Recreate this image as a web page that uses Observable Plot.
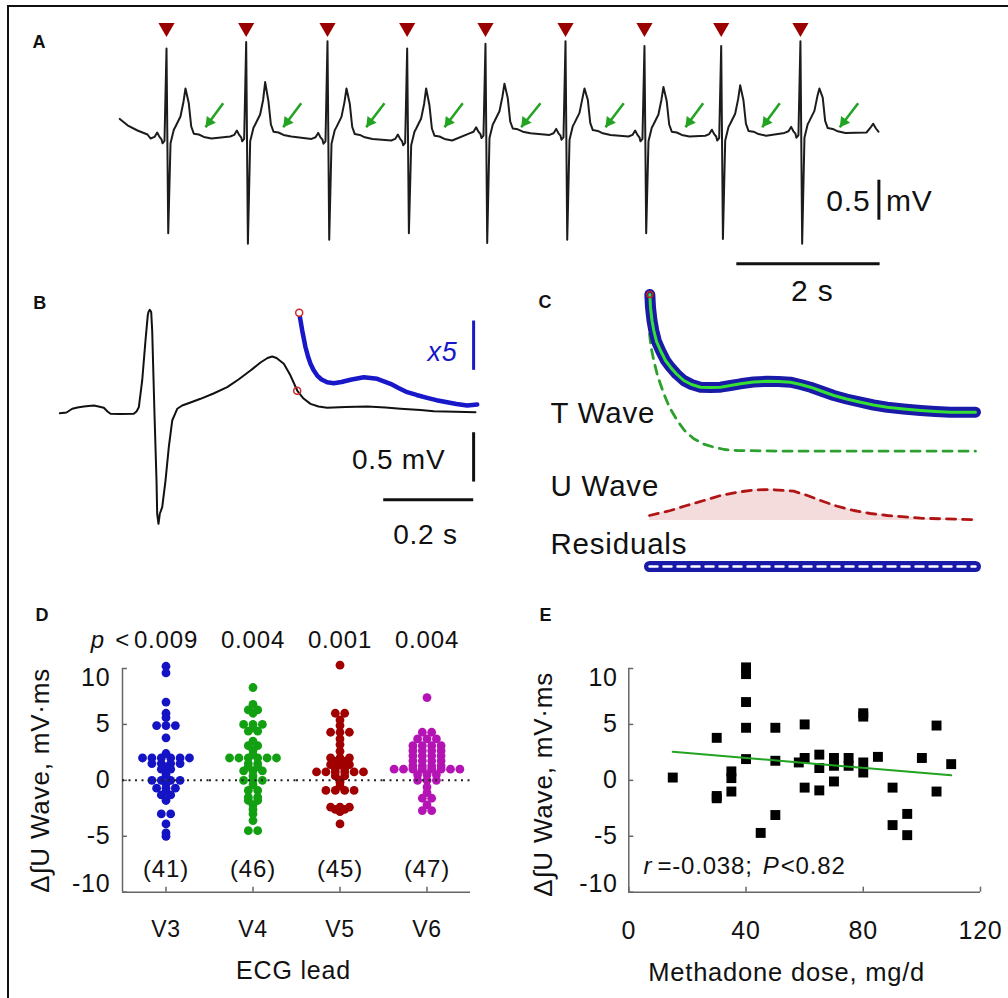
<!DOCTYPE html>
<html><head><meta charset="utf-8">
<script src="https://cdn.jsdelivr.net/npm/d3@7"></script>
<script src="https://cdn.jsdelivr.net/npm/@observablehq/plot@0.6"></script>
<style>
html,body{margin:0;padding:0;background:#fff;}
#fig{position:relative;width:1008px;height:998px;overflow:hidden;background:#fff;}
.panel{position:absolute;}
.panel svg text{letter-spacing:0.8px;}
#frame{position:absolute;left:7px;top:5px;width:1100px;height:1100px;border-top:2px solid #111;border-left:2px solid #111;pointer-events:none;}
</style></head><body><div id="fig"></div>
<script>
// ---------------- Panel A : ECG strip (time in s, voltage in mV) ----------------
const rPeakTimes   = [2.317, 3.429, 4.564, 5.676, 6.769, 7.886, 8.988, 10.059, 11.165];
const rPeakAmps    = [1.10, 1.18, 1.19, 1.10, 1.16, 1.19, 1.13, 1.13, 1.19];
const sWaveAmps    = [-1.21, -1.34, -1.29, -1.21, -1.33, -1.29, -1.21, -1.28, -1.34];
const tWaveAmps    = [0.60, 0.68, 0.60, 0.60, 0.66, 0.60, 0.62, 0.64, 0.60];
const beatBaselines= [-0.025, 0.0, -0.03, -0.05, 0.04, 0.02, 0.0, 0.01, 0.045];
// beat shape read from the strip: offset from R (s) and level above baseline (mV)
const beatShapeOffsets = [-0.223,-0.167,-0.13,-0.098,-0.07,-0.056,-0.028,0,0.024,0.056,0.102,0.126,0.195,0.237,0.265,0.311,0.345,0.381,0.451,0.521,0.628];
const beatShapeLevels  = [0,0.02,0.075,0.02,-0.01,-0.06,-0.03,"R","S",-0.06,0.11,0.15,0.275,0.46,"T",0.44,0.15,0.06,0.05,0.02,0];
const leadInTimes  = [1.665, 1.773, 1.912, 2.052];
const leadInVolts  = [0.22, 0.14, 0.075, 0.025];
const leadOutTimes = [12.087, 12.142, 12.18, 12.219, 12.254];
const leadOutVolts = [0.05, 0.11, 0.16, 0.10, 0.06];
const rMarkerLevel = 1.36;
const arrowTipTimes  = [2.861, 3.946, 5.104, 6.197, 7.267, 8.444, 9.560, 10.631, 11.714];
const arrowTailTimes = [3.108, 4.197, 5.359, 6.452, 7.537, 8.699, 9.807, 10.877, 11.971];
const arrowTipLevel = 0.116, arrowTailLevel = 0.416;
const scaleBarA = {t0: 10.27, sec: 2, hv: -1.59, vt: 12.26, v0: -0.54, mv: 0.5};

// ---------------- Panel B : averaged beat (time in ms, mV) ----------------
const bTimes = [0,14.9,27.6,39.3,53.3,63.8,75.6,86,97.8,106,112.7,134,164.4,170.4,175.6,183.1,190.4,195.6,197.1,200,203.1,205.3,210.4,214.9,216.4,219.3,222.2,227.6,234.9,242.2,249.8,260.9,272,290.4,312.7,341.6,372,397.1,423.8,446,461.6,472,481.6,497.8,512.7,527.6,541.6,557.1,574.9,594.2,634.9,683.1,723.8,757.1,801.6,831.1,879.3,923.8];
const bVolts = [0.003,0.01,0.048,0.061,0.071,0.076,0.081,0.071,0.058,0.02,-0.003,-0.005,-0.003,0.02,0.064,0.335,0.74,1.0,1.03,1.052,1.03,0.842,-0.003,-0.68,-1.017,-1.119,-1.017,-0.95,-0.68,-0.342,-0.071,0.048,0.081,0.112,0.149,0.203,0.267,0.345,0.436,0.517,0.563,0.578,0.563,0.504,0.385,0.233,0.152,0.098,0.071,0.058,0.066,0.071,0.061,0.048,0.035,0.023,0.017,0.013];
const x5Times = [532,538.7,546,551.6,557.1,563.8,572,581.6,594.2,608.9,626,646,675.6,705.3,734.9,752.7,772,792.7,816.4,837.1,860.9,881.6,905.3,927.6];
const x5Volts = [1.021,0.842,0.672,0.578,0.504,0.441,0.385,0.345,0.317,0.307,0.319,0.342,0.368,0.352,0.301,0.259,0.216,0.188,0.159,0.135,0.115,0.096,0.081,0.091];
const tEndPoint = {t: 527.6, v: 0.23};
const scaleBarB = {t: 919.6, v0: -0.19, mv: 0.5, h0: 718.7, ms: 200, hv: -0.875, bv0: 0.443, bmv: 0.5};

// ---------------- Panel C : fit decomposition (ms, a.u.) ----------------
const fitTimes = [532.4,533.2,535,537.2,540.5,545.3,551.4,557.5,564.8,573.6,583,593.9,606,618.2,630.3,642.4,658.2,674.8,688.6,703.1,715.3,727.4,742,755.7,771.1,788.1,803.8,820.5,840.3,860.9,879.1,897.3,915.5,927.6];
const fitVals  = [3.06,2.933,2.80,2.70,2.59,2.50,2.40,2.333,2.265,2.20,2.16,2.133,2.13,2.133,2.15,2.167,2.185,2.193,2.19,2.183,2.16,2.133,2.09,2.05,2.015,1.983,1.955,1.933,1.915,1.90,1.89,1.883,1.883,1.883];
const tWaveTimes = [532,534,537.2,541.7,549.4,556.3,565.6,574.5,585.8,597.5,610,623,638.4,699.1,927.6];
const tWaveVals  = [2.667,2.53,2.40,2.25,2.067,1.93,1.80,1.70,1.617,1.565,1.533,1.51,1.50,1.493,1.493];
const uWaveTimes = [532,557.5,577,597.9,618.2,638.4,658.2,678.8,707.1,723.7,739.5,758.9,779.9,800.2,820.5,860.9,927.6];
const uWaveVals  = [0.85,0.90,0.95,1.00,1.05,1.083,1.105,1.11,1.093,1.05,1.00,0.945,0.90,0.87,0.85,0.823,0.807];
const uWaveBase = 0.80;
const residualTimes = [532, 927.6];
const residualVals  = [0.34, 0.34];

// ---------------- Panel D : ΔU wave by lead ----------------
const leads = ["V3", "V4", "V5", "V6"];
const leadColors = ["#1414c4", "#12a012", "#a00000", "#b414b4"];
const pValues = ["0.009", "0.004", "0.001", "0.004"];
const leadCounts = ["(41)", "(46)", "(45)", "(47)"];
const v3Values = [10.2,9.6,7.0,6.0,5.6,4.9,4.9,4.9,3.8,2.4,2.0,2.0,2.0,2.0,2.0,2.0,1.5,1.5,1.5,1.5,1.2,1.0,1.0,0.5,0.0,0.0,0.0,0.0,-0.3,-0.7,-0.7,-0.7,-1.0,-1.3,-1.3,-1.8,-3.0,-3.0,-3.9,-4.7,-5.0];
const v4Values = [8.3,6.8,6.3,6.3,6.0,5.0,5.0,5.0,4.7,4.4,4.4,3.5,3.1,3.1,2.7,2.3,2.0,2.0,2.0,2.0,2.0,2.0,1.5,1.5,1.2,1.2,0.85,0.85,0.85,0.4,0.0,0.0,0.0,-0.4,-0.9,-0.9,-1.5,-1.5,-1.8,-1.8,-2.2,-2.6,-3.0,-3.6,-4.5,-4.5];
const v5Values = [10.3,6.0,6.0,5.4,4.9,4.3,4.3,4.3,3.7,3.2,2.6,2.0,2.0,2.0,1.7,1.7,1.4,1.4,1.4,1.2,1.2,1.05,1.05,0.75,0.75,0.75,0.75,0.75,0.75,0.4,0.4,0.0,-0.2,-0.5,-0.9,-0.9,-0.9,-0.9,-2.4,-2.4,-2.4,-2.6,-2.6,-2.8,-3.9];
const v6Values = [7.4,4.3,4.3,3.7,3.7,3.7,3.1,3.1,3.1,3.1,2.65,2.65,2.65,2.65,2.2,2.2,2.2,2.2,1.75,1.75,1.75,1.75,1.3,1.3,1.3,1.3,1.0,1.0,1.0,1.0,1.0,1.0,1.0,1.0,0.5,0.5,0.5,0.0,0.0,0.0,-0.6,-1.1,-1.6,-1.6,-2.2,-2.7,-2.7];
const yTicks = [-10, -5, 0, 5, 10];

// ---------------- Panel E : dose vs ΔU wave ----------------
const doseValues  = [15,30,30,30,35,35,35,40,40,40,40,40,45,50,50,50,58,60,60,60,65,65,65,70,70,70,75,75,80,80,80,80,85,90,90,95,95,100,105,105,110];
const deltaValues = [0.25,3.8,-1.4,-1.6,0.2,0.8,-1.0,10.1,9.5,7.0,4.7,1.9,-4.7,4.7,1.75,-3.1,1.6,5.0,2.0,-0.65,2.3,1.1,-0.9,2.0,1.3,-0.1,2.0,1.3,6.0,5.7,1.6,0.7,2.1,-0.65,-4.0,-3.0,-4.9,2.0,4.9,-1.0,1.45];
const fitDose  = [15, 110];
const fitDelta = [2.55, 0.45];
const doseTicks = [0, 40, 80, 120];

// ===================================================================
const FONT = "'Liberation Sans', Arial, Helvetica, sans-serif";
const INK = "#111";
const GREEN = "#22a322";
const AXIS = "#666";
const style = {background: "transparent", fontFamily: FONT, overflow: "visible", color: INK};
const fig = document.getElementById("fig");
function place(svg, left, top) {
  const d = document.createElement("div");
  d.className = "panel";
  d.style.left = left + "px"; d.style.top = top + "px";
  d.appendChild(svg); fig.appendChild(d);
}
const letter = (s, dx, dy) => Plot.text([s], {frameAnchor: "top-left", dx, dy, text: d => d, textAnchor: "start", lineAnchor: "bottom", fontSize: 18, fontWeight: "bold", fill: INK});

// ---- Panel A ----
const traceA = [];
leadInTimes.forEach((t, i) => traceA.push({t, v: leadInVolts[i]}));
rPeakTimes.forEach((r, i) => {
  beatShapeOffsets.forEach((dt, j) => {
    const L = beatShapeLevels[j];
    const v = L === "R" ? rPeakAmps[i] : L === "S" ? sWaveAmps[i] : L === "T" ? tWaveAmps[i] : beatBaselines[i] + L;
    traceA.push({t: r + dt, v});
  });
});
leadOutTimes.forEach((t, i) => traceA.push({t, v: leadOutVolts[i]}));
const arrows = arrowTipTimes.map((t, i) => ({tipT: t, tipV: arrowTipLevel, tailT: arrowTailTimes[i], tailV: arrowTailLevel}));

place(Plot.plot({
  width: 1008, height: 310, margin: 0, style,
  x: {domain: [0, 14.069], axis: null},
  y: {domain: [-2.175, 1.7], axis: null},
  marks: [
    Plot.line(traceA, {x: "t", y: "v", stroke: "#1c1c1c", strokeWidth: 2, strokeLinejoin: "round"}),
    Plot.dot(rPeakTimes, {x: d => d, y: rMarkerLevel, symbol: "triangle", rotate: 180, r: 6, fill: "#9b0000", stroke: "none"}),
    Plot.link(arrows, {x1: "tailT", y1: "tailV", x2: "tipT", y2: "tipV", stroke: GREEN, strokeWidth: 2.5}),
    Plot.dot(arrows, {x: "tipT", y: "tipV", symbol: "triangle", rotate: 216.4, r: 4.2, fill: GREEN, stroke: "none", dx: 3.9, dy: -5.3}),
    Plot.link([scaleBarA], {x1: d => d.t0, x2: d => d.t0 + d.sec, y1: "hv", y2: "hv", stroke: INK, strokeWidth: 3}),
    Plot.link([scaleBarA], {x1: "vt", x2: "vt", y1: "v0", y2: d => d.v0 - d.mv, stroke: INK, strokeWidth: 3}),
    Plot.text(["0.5"], {x: 12.142, y: -0.925, text: d => d, textAnchor: "end", lineAnchor: "bottom", fontSize: 30, fill: INK}),
    Plot.text(["mV"], {x: 12.36, y: -0.925, text: d => d, textAnchor: "start", lineAnchor: "bottom", fontSize: 30, fill: INK}),
    Plot.text(["2 s"], {x: 11.33, y: -2.05, text: d => d, textAnchor: "middle", lineAnchor: "bottom", fontSize: 30, fill: INK}),
    letter("A", 32, 47)
  ]
}), 0, 0);

// ---- Panel B ----
const traceB = bTimes.map((t, i) => ({t, v: bVolts[i]}));
const traceX5 = x5Times.map((t, i) => ({t, v: x5Volts[i]}));
place(Plot.plot({
  width: 520, height: 310, margin: 0, style,
  x: {domain: [-131.8, 1023.8], axis: null},
  y: {domain: [-1.7951, 1.3489], axis: null},
  marks: [
    Plot.line(traceB, {x: "t", y: "v", stroke: "#111", strokeWidth: 2, strokeLinejoin: "round"}),
    Plot.line(traceX5, {x: "t", y: "v", stroke: "#1818c8", strokeWidth: 4.5, strokeLinejoin: "round", strokeLinecap: "round"}),
    Plot.dot([tEndPoint], {x: "t", y: "v", r: 3.5, stroke: "#d02828", strokeWidth: 1.5, fill: "none"}),
    Plot.dot([traceX5[0]], {x: "t", y: "v", r: 3.5, stroke: "#d02828", strokeWidth: 1.5, fill: "white"}),
    Plot.link([scaleBarB], {x1: "t", x2: "t", y1: "v0", y2: d => d.v0 - d.mv, stroke: INK, strokeWidth: 3}),
    Plot.link([scaleBarB], {x1: "h0", x2: d => d.h0 + d.ms, y1: "hv", y2: "hv", stroke: INK, strokeWidth: 3}),
    Plot.link([scaleBarB], {x1: "t", x2: "t", y1: "bv0", y2: d => d.bv0 + d.bmv, stroke: "#1818c8", strokeWidth: 3}),
    Plot.text(["x5"], {x: 884, y: 0.5375, text: d => d, textAnchor: "end", lineAnchor: "bottom", fontSize: 27, fontStyle: "italic", fill: "#1818c8"}),
    Plot.text(["0.5 mV"], {x: 857, y: -0.561, text: d => d, textAnchor: "end", lineAnchor: "bottom", fontSize: 28, fill: INK}),
    Plot.text(["0.2 s"], {x: 812.7, y: -1.321, text: d => d, textAnchor: "middle", lineAnchor: "bottom", fontSize: 28, fill: INK}),
    letter("B", 32.7, 28.3)
  ]
}), 0, 280);

// ---- Panel C ----
const fitC = fitTimes.map((t, i) => ({t, v: fitVals[i]}));
const tWaveC = tWaveTimes.map((t, i) => ({t, v: tWaveVals[i]}));
const uWaveC = uWaveTimes.map((t, i) => ({t, v: uWaveVals[i]}));
const residC = residualTimes.map((t, i) => ({t, v: residualVals[i]}));
const cLabel = (s, dx, dy) => Plot.text([s], {frameAnchor: "top-left", dx, dy, text: d => d, textAnchor: "start", lineAnchor: "bottom", fontSize: 29.5, fill: INK});
place(Plot.plot({
  width: 488, height: 330, margin: 0, style,
  x: {domain: [375.45, 967.67], axis: null},
  y: {domain: [-0.1, 3.2], axis: null},
  marks: [
    Plot.areaY(uWaveC, {x: "t", y1: uWaveBase, y2: "v", fill: "#f4dcdc"}),
    Plot.line(uWaveC, {x: "t", y: "v", stroke: "#b01414", strokeWidth: 2.8, strokeDasharray: "9,7"}),
    Plot.line(tWaveC, {x: "t", y: "v", stroke: "#2ca02c", strokeWidth: 2.8, strokeDasharray: "9,7"}),
    Plot.line(fitC, {x: "t", y: "v", stroke: "#1a1aa8", strokeWidth: 11, strokeLinecap: "round", strokeLinejoin: "round"}),
    Plot.line(fitC, {x: "t", y: "v", stroke: "#35e035", strokeWidth: 3, strokeLinecap: "round", strokeLinejoin: "round"}),
    Plot.dot([fitC[0]], {x: "t", y: "v", r: 3, stroke: "#c02020", strokeWidth: 1.5, fill: "none"}),
    Plot.line(residC, {x: "t", y: "v", stroke: "#1a1aa8", strokeWidth: 11, strokeLinecap: "round"}),
    Plot.line(residC, {x: "t", y: "v", stroke: "white", strokeWidth: 2.5, strokeDasharray: "8,6"}),
    cLabel("T Wave", 30, 142.7),
    cLabel("U Wave", 30, 215),
    cLabel("Residuals", 30, 273.3),
    letter("C", 18, 27.3)
  ]
}), 520, 280);

// ---- Panel D ----
// spread layout: equal values in a lead share a row, centred on the lead
const leadValues = [v3Values, v4Values, v5Values, v6Values];
const spreadPx = 9.5, bandPx = 88;
const dotsD = leads.flatMap((lead, i) => {
  const out = [];
  for (const [value, arr] of d3.group(leadValues[i], d => d)) {
    arr.forEach((_, k) => out.push({lead, value, offset: 0.5 + (k - (arr.length - 1) / 2) * spreadPx / bandPx}));
  }
  return out;
});
const leadRows = leads.map((lead, i) => ({lead, p: pValues[i], n: leadCounts[i]}));
const firstLead = [{lead: leads[0]}];
const yTickRowsD = yTicks.map(v => ({lead: leads[0], v}));
const inner = v => v > -10 && v < 10;
const yLabel = "\u0394\u222BU Wave, mV\u00B7ms";
const yTickTextD = (filter, lineAnchor) => Plot.text(yTickRowsD.filter(d => filter(d.v)), {fx: "lead", x: 0, y: "v", dx: -12, text: d => String(d.v), textAnchor: "end", lineAnchor, fontSize: 25, fill: INK});
place(Plot.plot({
  width: 500, height: 408, marginLeft: 120, marginRight: 28.3, marginTop: 78, marginBottom: 106.3, style,
  fx: {domain: leads, padding: 0, axis: null},
  x: {domain: [0, 1], axis: null},
  y: {domain: [-10, 10], axis: null},
  color: {domain: leads, range: leadColors},
  marks: [
    Plot.ruleY([-10], {stroke: AXIS, strokeWidth: 1.5}),
    Plot.ruleX(firstLead, {fx: "lead", x: 0, y1: -10, y2: 10, stroke: AXIS, strokeWidth: 1.5}),
    Plot.ruleY(yTickRowsD, {fx: "lead", y: "v", x1: 0, x2: 0.057, stroke: AXIS, strokeWidth: 1.5}),
    Plot.ruleX(leadRows, {fx: "lead", x: 0.5, y1: -10, y2: -9.55, stroke: AXIS, strokeWidth: 1.5}),
    Plot.dot(dotsD, {fx: "lead", x: "offset", y: "value", r: 4.4, fill: "lead", stroke: "none"}),
    Plot.ruleY([0], {stroke: "#222", strokeWidth: 2, strokeDasharray: "2,4.5"}),
    yTickTextD(inner, "middle"),
    yTickTextD(v => v === 10, "top"),
    yTickTextD(v => v === -10, "bottom"),
    Plot.text(leadRows, {fx: "lead", x: 0.5, y: -10, dy: 45, text: "lead", textAnchor: "middle", lineAnchor: "bottom", fontSize: 23, fill: INK}),
    Plot.text(leadRows, {fx: "lead", x: 0.5, y: 10, dy: -21, text: "p", textAnchor: "middle", lineAnchor: "bottom", fontSize: 24, fill: INK}),
    Plot.text(firstLead, {fx: "lead", x: 0.5, y: 10, dy: -21, dx: -61, text: () => "p", textAnchor: "end", lineAnchor: "bottom", fontSize: 24, fontStyle: "italic", fill: INK}),
    Plot.text(firstLead, {fx: "lead", x: 0.5, y: 10, dy: -21, dx: -36, text: () => "<", textAnchor: "end", lineAnchor: "bottom", fontSize: 24, fill: INK}),
    Plot.text(leadRows, {fx: "lead", x: 0.5, y: -10, dy: -15, text: "n", textAnchor: "middle", lineAnchor: "bottom", fontSize: 24, fill: INK}),
    Plot.text(firstLead, {fx: "lead", frameAnchor: "left", dx: -82, rotate: -90, text: () => yLabel, textAnchor: "middle", lineAnchor: "middle", fontSize: 26, fill: INK}),
    Plot.text([{lead: leads[1]}], {fx: "lead", frameAnchor: "bottom-right", dx: -3, dy: 86.6, text: () => "ECG lead", textAnchor: "middle", lineAnchor: "bottom", fontSize: 25, fill: INK}),
    Plot.text(firstLead, {fx: "lead", frameAnchor: "top-left", dx: -87, dy: -48, text: () => "D", textAnchor: "start", lineAnchor: "bottom", fontSize: 18, fontWeight: "bold", fill: INK})
  ]
}), 0, 590);

// ---- Panel E ----
const pointsE = doseValues.map((dose, i) => ({dose, delta: deltaValues[i]}));
const fitE = fitDose.map((dose, i) => ({dose, delta: fitDelta[i]}));
const statText = (s, dx, italic) => Plot.text([s], {frameAnchor: "bottom-left", dx, dy: -18.4, text: d => d, textAnchor: "start", lineAnchor: "bottom", fontSize: 24, fontStyle: italic ? "italic" : "normal", fill: INK});
const yTickTextE = (filter, lineAnchor) => Plot.text(yTicks.filter(filter), {x: 0, y: d => d, dx: -11, text: d => String(d), textAnchor: "end", lineAnchor, fontSize: 25, fill: INK});
place(Plot.plot({
  width: 508, height: 408, marginLeft: 128.3, marginRight: 28, marginTop: 78, marginBottom: 106.3, style,
  x: {domain: [0, 120], axis: null},
  y: {domain: [-10, 10], axis: null},
  marks: [
    Plot.ruleY([-10], {x1: 0, x2: 120, stroke: AXIS, strokeWidth: 1.5}),
    Plot.ruleX([0], {y1: -10, y2: 10, stroke: AXIS, strokeWidth: 1.5}),
    Plot.ruleY(yTicks, {x1: 0, x2: 1.7, stroke: AXIS, strokeWidth: 1.5}),
    Plot.ruleX(doseTicks, {y1: -10, y2: -9.55, stroke: AXIS, strokeWidth: 1.5}),
    Plot.dot(pointsE, {x: "dose", y: "delta", symbol: "square", r: 5.6, fill: "#000", stroke: "none"}),
    Plot.line(fitE, {x: "dose", y: "delta", stroke: GREEN, strokeWidth: 2}),
    yTickTextE(inner, "middle"),
    yTickTextE(v => v === 10, "top"),
    yTickTextE(v => v === -10, "bottom"),
    Plot.text(doseTicks, {x: d => d, y: -10, dy: 46.6, text: d => String(d), textAnchor: "middle", lineAnchor: "bottom", fontSize: 25, fill: INK}),
    Plot.text([yLabel], {frameAnchor: "left", dx: -85.3, dy: 4, rotate: -90, text: d => d, textAnchor: "middle", lineAnchor: "middle", fontSize: 26, fill: INK}),
    Plot.text(["Methadone dose, mg/d"], {frameAnchor: "bottom", dx: -18, dy: 88.3, text: d => d, textAnchor: "middle", lineAnchor: "bottom", fontSize: 25.5, fill: INK}),
    statText("r", 14.7, true),
    statText("=-0.038;", 28.7, false),
    statText("P", 134, true),
    statText("<0.82", 152, false),
    Plot.text(["E"], {frameAnchor: "top-left", dx: -89.3, dy: -48, text: d => d, textAnchor: "start", lineAnchor: "bottom", fontSize: 18, fontWeight: "bold", fill: INK})
  ]
}), 500, 590);

const frame = document.createElement("div");
frame.id = "frame";
fig.appendChild(frame);
</script></body></html>
